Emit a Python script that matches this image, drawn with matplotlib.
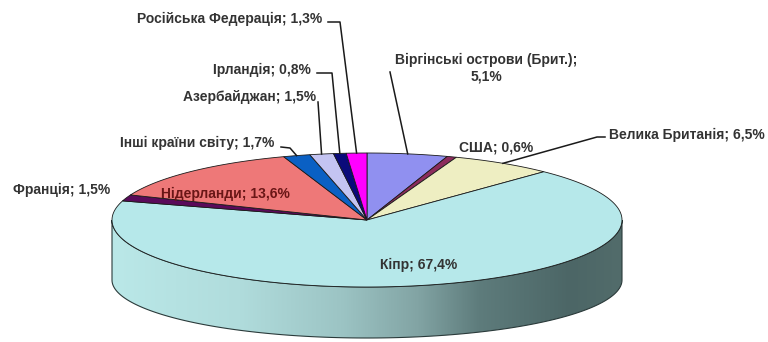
import numpy as np
import matplotlib.pyplot as plt
from matplotlib.patches import Polygon
from matplotlib.colors import LinearSegmentedColormap

plt.rcParams['font.family'] = ['Liberation Sans', 'DejaVu Sans']

countries = ["Віргінські острови (Брит.)", "США", "Велика Британія", "Кіпр", "Франція",
             "Нідерланди", "Інші країни світу", "Азербайджан", "Ірландія", "Російська Федерація"]
shares = [5.1, 0.6, 6.5, 67.4, 1.5, 13.6, 1.7, 1.5, 0.8, 1.3]
colors = ["#9090f0", "#8c2c5c", "#eeeec2", "#b6e8ea", "#5a0a5a",
          "#ee7878", "#0a60c4", "#c4c4f2", "#0a0a7a", "#ff00ff"]

# geometry of the 3d disc (pixel units)
CX, CY, RA, RB = 367, 220, 255, 67
BY, BB = 280, 58


def top_pt(theta):
    # theta in degrees, clockwise from 12 o'clock
    t = np.radians(theta)
    return CX + RA * np.sin(t), CY - RB * np.cos(t)


def bot_pt(theta):
    t = np.radians(theta)
    return CX + RA * np.sin(t), BY - BB * np.cos(t)


fig = plt.figure(figsize=(7.68, 3.42), dpi=100)
ax = fig.add_axes([0, 0, 1, 1])
ax.set_xlim(0, 768)
ax.set_ylim(342, 0)
ax.axis('off')

# side wall of the disc (only the front half is visible)
th = np.linspace(90, 270, 200)
tx, ty = top_pt(th)
bx, by = bot_pt(th[::-1])
side = Polygon(np.column_stack([np.r_[tx, bx], np.r_[ty, by]]), closed=True,
               facecolor='none', edgecolor='#2a3a3a', lw=0.8, zorder=2)
ax.add_patch(side)
side_cmap = LinearSegmentedColormap.from_list('side', [
    (0.0, '#bae8e8'), (0.25, '#b0dcdc'), (0.45, '#9cc4c4'),
    (0.6, '#82a4a4'), (0.72, '#5e7c7c'), (0.9, '#4c6666'), (1.0, '#526c6b')])
grad = np.linspace(0, 1, 256).reshape(1, -1)
img = ax.imshow(grad, cmap=side_cmap, extent=[CX - RA, CX + RA, BY + BB + 2, CY - 2],
                aspect='auto', zorder=1)
img.set_clip_path(side)

# top face slices
bounds = np.r_[0, np.cumsum(shares)] / 100 * 360
mids = (bounds[:-1] + bounds[1:]) / 2
for start, end, col in zip(bounds[:-1], bounds[1:], colors):
    t = np.linspace(start, end, max(int(end - start) * 2, 3))
    px, py = top_pt(t)
    pts = np.column_stack([np.r_[CX, px], np.r_[CY, py]])
    ax.add_patch(Polygon(pts, closed=True, facecolor=col, edgecolor='#1a1a1a',
                         lw=0.6, zorder=3))

anchors = [top_pt(m) for m in mids]
txt = dict(fontsize=10, fontweight='bold', color='#333333', zorder=5)
lead = dict(color='#1a1a1a', lw=1.1, zorder=4)

labels = [f"{c}; {str(s).replace('.', ',')}%" for c, s in zip(countries, shares)]

# Віргінські острови
ax.text(486, 68, labels[0].replace('; ', ';\n'), ha='center', va='center',
        linespacing=1.2, **txt)
ax.plot([390, anchors[0][0]], [72, anchors[0][1]], **lead)
# США
ax.text(496, 147, labels[1], ha='center', va='center', **txt)
# Велика Британія
ax.text(609, 135, labels[2], ha='left', va='center', **txt)
ax.plot([605, 597, anchors[2][0]], [137, 137, anchors[2][1]], **lead)
# Кіпр
ax.text(419, 265, labels[3], ha='center', va='center', **txt)
# Франція
ax.text(110, 190, labels[4], ha='right', va='center', **txt)
# Нідерланди
ax.text(225, 194, labels[5], ha='center', va='center',
        **{**txt, 'color': '#6a1616'})
# Інші країни світу
ax.text(274, 143, labels[6], ha='right', va='center', **txt)
ax.plot([281, 290, anchors[6][0]], [147, 148, anchors[6][1]], **lead)
# Азербайджан
ax.text(316, 97, labels[7], ha='right', va='center', **txt)
ax.plot([318, anchors[7][0]], [102, anchors[7][1]], **lead)
# Ірландія
ax.text(311, 70, labels[8], ha='right', va='center', **txt)
ax.plot([317, 332, anchors[8][0]], [73, 73, anchors[8][1]], **lead)
# Російська Федерація
ax.text(322, 19, labels[9], ha='right', va='center', **txt)
ax.plot([328, 340, anchors[9][0]], [22, 22, anchors[9][1]], **lead)

fig.savefig('out.png', dpi=100)
